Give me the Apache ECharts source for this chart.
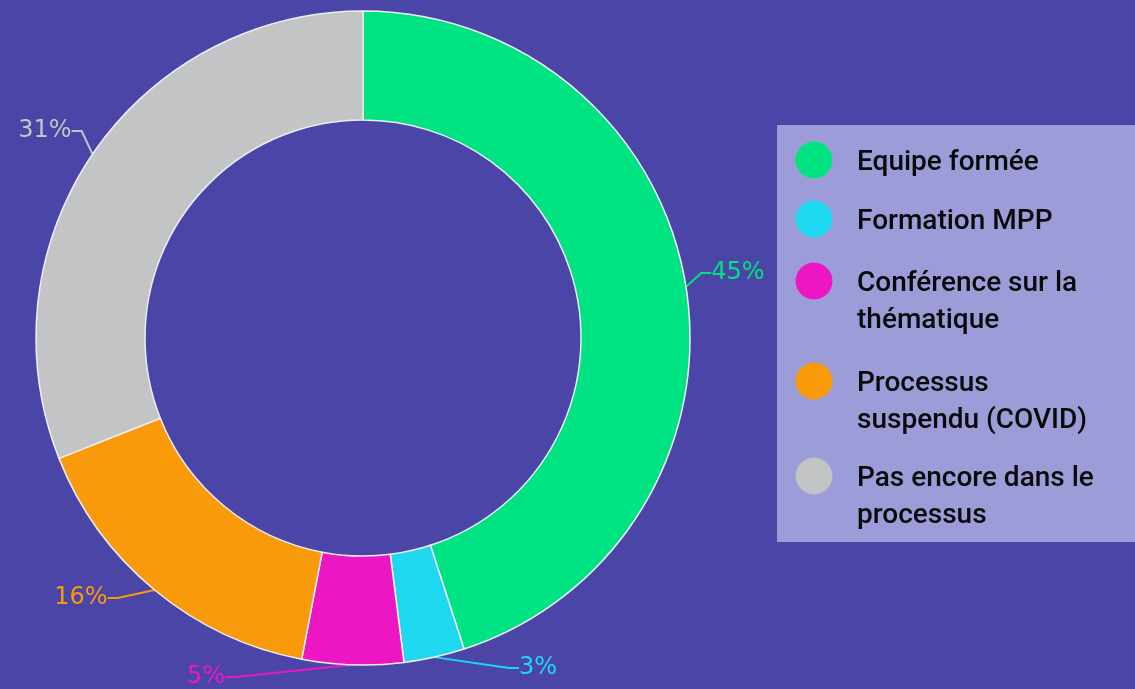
<!DOCTYPE html>
<html>
<head>
<meta charset="utf-8">
<script src="https://cdn.jsdelivr.net/npm/echarts@6/dist/echarts.min.js"></script>
<style>
html,body{margin:0;padding:0;background:#4B45A8;}
#main{width:1135px;height:689px;}
</style>
</head>
<body>
<div id="main"></div>
<script>
// ---- data ----
const categories = ['Equipe formée', 'Formation MPP', 'Conférence sur la thématique', 'Processus suspendu (COVID)', 'Pas encore dans le processus'];
const legendLabels = ['Equipe formée', 'Formation MPP', 'Conférence sur la\nthématique', 'Processus\nsuspendu (COVID)', 'Pas encore dans le\nprocessus'];
const values = [45, 3, 5, 16, 31];
const colors = ['#00E383', '#1ED8F0', '#EC16C3', '#F99A0B', '#C2C4C5'];

// ---- style/layout config ----
const labelPos = [[738, 273], [538, 668], [206, 677], [81, 598], [45, 131]];
const legendRowY = [160, 219, 281, 381, 476];

const chart = echarts.init(document.getElementById('main'));

const graphic = [{
  type: 'rect', shape: {x: 777, y: 125, width: 362, height: 417},
  style: {fill: '#9C9DD8'}, z: 10
}];
categories.forEach((c, i) => {
  graphic.push({type: 'circle', shape: {cx: 814, cy: legendRowY[i], r: 18.5}, style: {fill: colors[i]}, z: 11});
  graphic.push({type: 'text', x: 857, y: legendRowY[i] - 16, z: 11,
    style: {text: legendLabels[i], fill: '#0A0A0A', font: '500 28px Roboto', lineHeight: 37, textVerticalAlign: 'top'}});
});

chart.setOption({
  backgroundColor: '#4B45A8',
  animation: false,
  graphic: graphic,
  series: [{
    type: 'pie',
    center: [363, 338],
    radius: [218, 327],
    startAngle: 90,
    clockwise: true,
    avoidLabelOverlap: false,
    data: categories.map((c, i) => ({name: c, value: values[i], itemStyle: {color: colors[i]}})),
    itemStyle: {borderColor: '#EDEDF5', borderWidth: 1.5},
    label: {
      show: true, position: 'outside',
      formatter: '{c}%',
      fontFamily: 'DejaVu Sans', fontSize: 24, fontWeight: 'normal',
      color: 'inherit'
    },
    labelLine: {show: true, length: 14, length2: 10, lineStyle: {width: 2}},
    labelLayout: function (p) {
      const pos = labelPos[p.dataIndex];
      return {x: pos[0], y: pos[1], align: 'center', verticalAlign: 'middle'};
    }
  }]
});
</script>
</body>
</html>
